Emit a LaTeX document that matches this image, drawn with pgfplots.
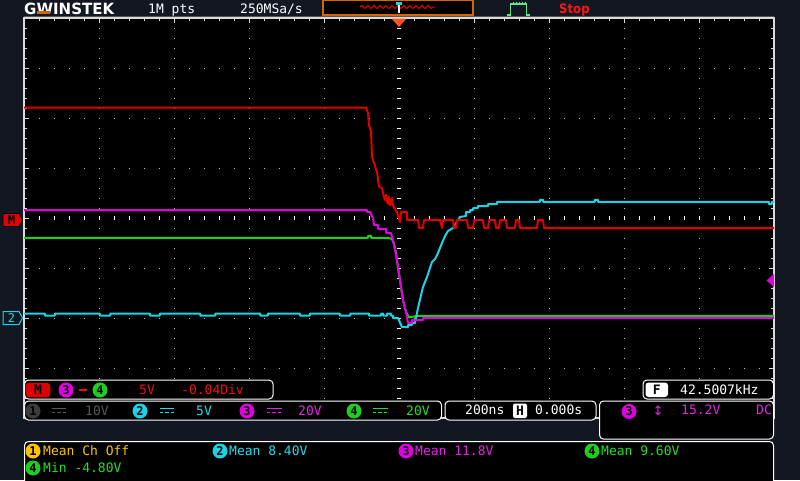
\documentclass[border=0pt]{standalone}
\usepackage{graphicx}
\usepackage{pgfplots}
\pgfplotsset{compat=1.18}
\usepackage{fontspec}
\setmainfont{DejaVu Sans Mono}
\newfontfamily\dvs{DejaVu Sans}
\usetikzlibrary{decorations.pathmorphing}
\definecolor{navy}{HTML}{131722}
\definecolor{gdot}{HTML}{C4C4C4}
\definecolor{bord}{HTML}{DADADA}
\definecolor{tred}{HTML}{E00000}
\definecolor{tmag}{HTML}{E000E0}
\definecolor{tgrn}{HTML}{1ED01E}
\definecolor{tcya}{HTML}{18D4E4}
\definecolor{txred}{HTML}{EE1010}
\definecolor{txmag}{HTML}{E820E8}
\definecolor{txgrn}{HTML}{22E022}
\definecolor{txcya}{HTML}{22DCEC}
\definecolor{txyel}{HTML}{F8C400}
\definecolor{orng}{HTML}{D2660E}
\definecolor{trig}{HTML}{FF5420}
\definecolor{stopred}{HTML}{FF1414}
\definecolor{icongrn}{HTML}{64E48C}
\definecolor{ch1gray}{HTML}{3C3C3C}
\definecolor{ch1txt}{HTML}{585858}
\newcommand\T{\fontsize{13}{13}\selectfont}
\newcommand\cdig[4]{\node[circle,fill=#1,inner sep=0pt,minimum size=15pt,text=#4,font=\fontsize{12}{12}\selectfont\bfseries] at (#2) {#3};}
\newcommand\tx[3]{\node[anchor=base west,inner sep=0pt,text=#1,font=\T] at (#2) {#3};}
\begin{document}
\begin{tikzpicture}
\useasboundingbox (0,0) rectangle (800pt,-480pt);
\begin{scope}[x=1pt,y=-1pt]
  \fill[navy] (0,0) rectangle (800,480);
  \fill[black] (24,18) rectangle (774,418);
  % dotted grid
  \foreach \gx in {99,174,249,324,474,549,624,699}
    \draw[gdot,line width=1pt,dash pattern=on 1pt off 9pt] (\gx,17.5) -- (\gx,418);
  \foreach \gy in {68,118,168,268,318,368}
    \draw[gdot,line width=1pt,dash pattern=on 1pt off 14pt] (23.5,\gy) -- (774,\gy);
  % centre cross
  \draw[white,line width=4.5pt,dash pattern=on 1pt off 9pt] (399,17.5) -- (399,418);
  \draw[white,line width=4.5pt,dash pattern=on 1pt off 14pt] (23.5,218) -- (774,218);
  % border ticks
  \draw[bord,line width=3pt,dash pattern=on 1pt off 14pt] (23.5,19.5) -- (774,19.5);
  \draw[bord,line width=3pt,dash pattern=on 1pt off 9pt] (25.5,17.5) -- (25.5,418);
  \draw[bord,line width=3pt,dash pattern=on 1pt off 9pt] (772.5,17.5) -- (772.5,418);
  \foreach \gx in {99,174,249,324,399,474,549,624,699}
    \draw[bord,line width=1pt] (\gx,18) -- (\gx,23);
  \foreach \gy in {68,118,168,218,268,318,368}
    {\draw[bord,line width=1pt] (24,\gy) -- (29,\gy); \draw[bord,line width=1pt] (774,\gy) -- (769,\gy);}
  \draw[gray!60!navy,line width=1pt] (24,16.5) -- (774,16.5);
  \draw[bord,line width=1.2pt] (24,18) rectangle (774,418);
\end{scope}

\begin{axis}[at={(24pt,-18pt)},anchor=north west,width=750pt,height=400pt,scale only axis,
  xmin=-5,xmax=5,ymin=-4,ymax=4,hide axis,clip=true]
% CH4 green
\addplot[tgrn,line width=2pt,line join=round] coordinates {
(-5,-0.395) (-0.413,-0.395) (-0.413,-0.355) (-0.373,-0.355) (-0.373,-0.395) (-0.147,-0.395)
(-0.093,-0.42) (-0.067,-0.52) (-0.040,-0.70) (-0.013,-1.00) (0.013,-1.24) (0.053,-1.64)
(0.093,-1.88) (0.133,-1.99) (0.253,-1.955) (5,-1.955)};
% CH2 cyan
\addplot[tcya,line width=2pt,line join=round] coordinates {
(-5,-1.91) (-4.72,-1.91) (-4.72,-1.95) (-4.59,-1.95) (-4.59,-1.91) (-3.99,-1.91) (-3.99,-1.95)
(-3.85,-1.95) (-3.85,-1.91) (-3.32,-1.91) (-3.32,-1.95) (-3.19,-1.95) (-3.19,-1.91) (-2.65,-1.91)
(-2.65,-1.95) (-2.45,-1.95) (-2.45,-1.91) (-1.85,-1.91) (-1.85,-1.95) (-1.75,-1.95) (-1.75,-1.91)
(-1.32,-1.91) (-1.32,-1.95) (-1.19,-1.95) (-1.19,-1.91) (-0.79,-1.91) (-0.79,-1.95) (-0.65,-1.95)
(-0.65,-1.91) (-0.400,-1.91) (-0.400,-1.95) (-0.240,-1.95) (-0.240,-1.91) (-0.213,-1.91)
(-0.213,-1.95) (-0.160,-1.95) (-0.160,-1.91) (-0.107,-1.91) (-0.107,-1.95) (-0.080,-1.95)
(-0.080,-2.0) (-0.013,-2.0) (0.027,-2.14) (0.040,-2.18) (0.120,-2.18) (0.120,-2.14) (0.173,-2.14)
(0.173,-2.10) (0.213,-2.10) (0.253,-1.80) (0.320,-1.38) (0.373,-1.18) (0.440,-0.88) (0.480,-0.82)
(0.520,-0.70) (0.573,-0.50) (0.613,-0.36) (0.653,-0.26) (0.720,-0.20) (0.813,0.02) (0.893,0.04)
(0.893,0.12) (0.947,0.12) (0.947,0.16) (0.987,0.16) (0.987,0.20) (1.053,0.20) (1.053,0.24)
(1.187,0.24) (1.187,0.28) (1.307,0.28) (1.307,0.325) (1.880,0.325) (1.880,0.365) (1.920,0.365)
(1.920,0.325) (2.613,0.325) (2.613,0.365) (2.653,0.365) (2.653,0.325) (4.933,0.325) (4.933,0.28)
(4.973,0.28) (4.973,0.325) (5,0.325)};
% CH3 magenta
\addplot[tmag,line width=2pt,line join=round] coordinates {
(-5,0.16) (-0.427,0.16) (-0.427,0.12) (-0.387,0.12) (-0.347,0.0) (-0.333,-0.14) (-0.280,-0.14)
(-0.280,-0.22) (-0.173,-0.22) (-0.173,-0.30) (-0.107,-0.30) (-0.080,-0.44) (-0.027,-0.84)
(0.013,-1.24) (0.053,-1.64) (0.093,-1.88) (0.120,-2.10) (0.173,-2.10) (0.173,-2.04) (0.320,-2.04)
(0.320,-1.995) (5,-1.995)};
% Math red
\addplot[tred,line width=2pt,line join=round] coordinates {
(-5,2.21) (-0.440,2.21) (-0.413,2.10) (-0.400,1.86) (-0.373,1.72) (-0.360,1.22) (-0.333,1.10)
(-0.293,0.92) (-0.267,0.62) (-0.227,0.60) (-0.213,0.50) (-0.200,0.42) (-0.187,0.36) (-0.173,0.46)
(-0.160,0.34) (-0.147,0.28) (-0.133,0.42) (-0.120,0.26) (-0.107,0.30) (-0.093,0.40) (-0.080,0.24)
(-0.053,0.18) (-0.027,0.12) (0,-0.02) (0.013,-0.08) (0.027,0.12) (0.107,0.12) (0.107,-0.04)
(0.253,-0.04) (0.267,-0.20) (0.320,-0.20) (0.333,-0.04) (0.547,-0.04) (0.573,-0.20) (0.587,-0.04)
(0.720,-0.04) (0.733,-0.20) (0.760,-0.20) (0.773,-0.04) (0.907,-0.04) (0.920,-0.20) (0.987,-0.20)
(1.000,-0.04) (1.120,-0.04) (1.133,-0.20) (1.187,-0.20) (1.200,-0.04) (1.280,-0.04) (1.293,-0.20)
(1.333,-0.20) (1.347,-0.04) (1.427,-0.04) (1.440,-0.20) (1.547,-0.20) (1.560,-0.04) (1.600,-0.04)
(1.613,-0.20) (1.840,-0.20) (1.853,-0.04) (1.920,-0.04) (1.933,-0.20) (5,-0.20)};
\end{axis}

\begin{scope}[x=1pt,y=-1pt]
  % trigger marker
  \fill[trig] (391.5,18.5) -- (406.5,18.5) -- (399,27) -- cycle;
  % left / right markers
  \filldraw[fill=tred,draw=black,line width=0.6pt] (3,213.5) -- (19,213.5) -- (22.5,220) -- (19,226.5) -- (3,226.5) -- cycle;
  \node[text=black,font=\fontsize{12}{12}\selectfont\bfseries,inner sep=0pt] at (11.5,220) {M};
  \draw[tcya,line width=1pt] (3,311.5) -- (19,311.5) -- (22.5,318) -- (19,324.5) -- (3,324.5) -- cycle;
  \node[text=txcya,font=\fontsize{12}{12}\selectfont,inner sep=0pt] at (11.5,318) {2};
  \fill[tmag] (774,274) -- (774,287) -- (766.5,280.5) -- cycle;

  % ---------- header ----------
  \node[anchor=base west,inner sep=0pt,text=white] at (24,14) {\resizebox{90pt}{11.5pt}{\dvs\bfseries GWINSTEK}};
  \fill[orng] (37,11) rectangle (50,13.8);
  \tx{white}{148,13.5}{1M pts}
  \tx{white}{240,13.5}{250MSa/s}
  \filldraw[fill=black,draw=orng,line width=1.2pt] (323,0.6) rectangle (473,15);
  \draw[tred,line width=1pt,decorate,decoration={snake,amplitude=1.6pt,segment length=6pt}] (360,7) -- (435,7);
  \draw[white,line width=2pt] (398.5,3) -- (398.5,12.5);
  \fill[tcya] (395.5,1.5) rectangle (401.5,4.5);
  \draw[icongrn,line width=1.5pt] (507,15) -- (510.5,15) -- (510.5,4) -- (526.5,4) -- (526.5,15) -- (530,15);
  \draw[icongrn,line width=1pt,dash pattern=on 1pt off 2pt] (512.5,2.5) -- (525,2.5);
  \node[anchor=base west,inner sep=0pt,text=stopred] at (559,13.5) {\scalebox{0.9}[1]{\dvs\bfseries\fontsize{13}{13}\selectfont Stop}};

  % ---------- math panel ----------
  \filldraw[fill=black,draw=white,line width=1pt,rounded corners=4pt] (24.5,380) rectangle (273,399);
  \filldraw[fill=tred,draw=tred,rounded corners=3pt] (26,383) rectangle (50,397);
  \node[text=black,font=\T\bfseries,inner sep=0pt] at (38,390) {M};
  \cdig{tmag}{66,390}{3}{black}
  \draw[txred,line width=2pt] (79,390) -- (87,390);
  \cdig{tgrn}{100,390}{4}{black}
  \tx{txred}{139,394.5}{5V}
  \tx{txred}{181,394.5}{-0.04Div}

  % ---------- frequency panel ----------
  \filldraw[fill=black,draw=white,line width=1pt,rounded corners=4pt] (643,380) rectangle (773.5,399);
  \fill[white,rounded corners=3pt] (645.5,382.5) rectangle (668,397);
  \node[text=black,font=\T\bfseries,inner sep=0pt] at (656.8,389.8) {F};
  \tx{white}{680,394}{42.5007kHz}

  % ---------- channel panel ----------
  \filldraw[fill=black,draw=white,line width=1pt,rounded corners=4pt] (24.5,401) rectangle (441.5,420);
  \cdig{ch1gray}{33,411}{1}{black}
  \draw[ch1txt,line width=1.6pt] (52,408.5) -- (66,408.5);
  \draw[ch1txt,line width=1.6pt,dash pattern=on 3.3pt off 2pt] (52,412.5) -- (66,412.5);
  \tx{ch1txt}{85,415}{10V}
  \cdig{tcya}{140,411}{2}{black}
  \draw[txcya,line width=1.6pt] (160,408.5) -- (174,408.5);
  \draw[txcya,line width=1.6pt,dash pattern=on 3.3pt off 2pt] (160,412.5) -- (174,412.5);
  \tx{txcya}{196,415}{5V}
  \cdig{tmag}{247,411}{3}{black}
  \draw[txmag,line width=1.6pt] (267,408.5) -- (282,408.5);
  \draw[txmag,line width=1.6pt,dash pattern=on 3.3pt off 2pt] (267,412.5) -- (282,412.5);
  \tx{txmag}{298,415}{20V}
  \cdig{tgrn}{354,411}{4}{black}
  \draw[txgrn,line width=1.6pt] (373,408.5) -- (388,408.5);
  \draw[txgrn,line width=1.6pt,dash pattern=on 3.3pt off 2pt] (373,412.5) -- (388,412.5);
  \tx{txgrn}{406,415}{20V}

  % ---------- timebase panel ----------
  \filldraw[fill=black,draw=white,line width=1pt,rounded corners=4pt] (445,401) rectangle (596,420);
  \tx{white}{465,414.5}{200ns}
  \fill[white,rounded corners=2pt] (513,403.5) rectangle (527,418);
  \node[text=black,font=\T\bfseries,inner sep=0pt] at (520,410.8) {H};
  \tx{white}{535,414.5}{0.000s}

  % ---------- trigger panel ----------
  \filldraw[fill=black,draw=white,line width=1pt,rounded corners=4pt] (599.5,401) rectangle (773.5,439);
  \cdig{tmag}{629,411.5}{3}{black}
  \node[text=txmag,font=\dvs\fontsize{13}{13}\selectfont,inner sep=0pt] at (658,411) {↕};
  \tx{txmag}{681,414.5}{15.2V}
  \tx{txmag}{756,414.5}{DC}

  % ---------- measurement panel ----------
  \filldraw[fill=black,draw=white,line width=1pt,rounded corners=4pt] (24.5,484) -- (24.5,441.5) -- (773.5,441.5) -- (773.5,484);
  \cdig{txyel}{33,451}{1}{black}
  \tx{txyel}{43,455.5}{Mean Ch Off}
  \cdig{tcya}{220,451}{2}{black}
  \tx{txcya}{229,455.5}{Mean 8.40V}
  \cdig{tmag}{406,451}{3}{black}
  \tx{txmag}{415,455.5}{Mean 11.8V}
  \cdig{tgrn}{592,451}{4}{black}
  \tx{txgrn}{601,455.5}{Mean 9.60V}
  \cdig{tgrn}{33,468}{4}{black}
  \tx{txgrn}{43,472}{Min -4.80V}
\end{scope}
\end{tikzpicture}
\end{document}
